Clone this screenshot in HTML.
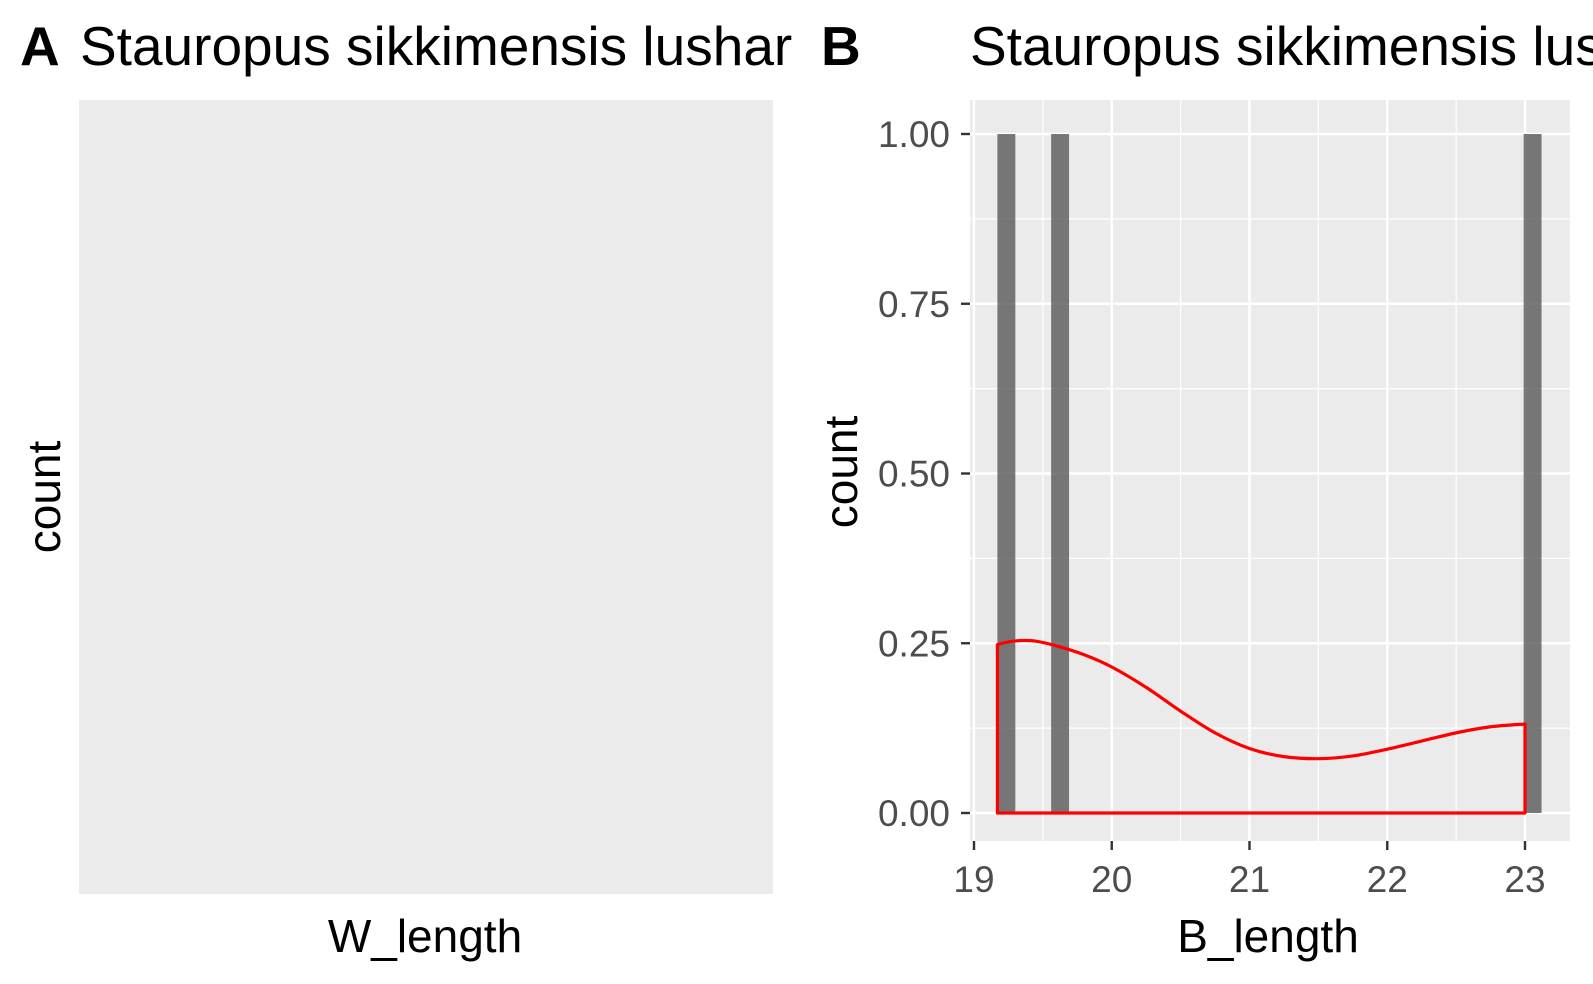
<!DOCTYPE html>
<html><head><meta charset="utf-8"><style>
html,body{margin:0;padding:0;background:#fff;}
svg{display:block;font-family:"Liberation Sans",Arial,sans-serif;}
</style></head><body>
<svg id="chart" width="1593" height="984" viewBox="0 0 1593 984">
  <text x="20" y="65" font-size="55" font-weight="bold">A</text>
  <text x="80" y="65" font-size="55">Stauropus sikkimensis lushar</text>
  <rect x="79" y="100" width="694" height="794" fill="#ebebeb"/>
  <text transform="translate(60,497) rotate(-90)" text-anchor="middle" font-size="46">count</text>
  <text x="425" y="952" text-anchor="middle" font-size="46">W_length</text>

  <text x="821" y="65" font-size="55" font-weight="bold">B</text>
  <text x="970" y="65" font-size="55">Stauropus sikkimensis lushar</text>
  <rect x="970" y="100" width="600" height="741" fill="#ebebeb"/>
  <g id="grid"></g>
  <g id="bars"></g>
  <g id="dens"></g>
  <g id="axes"></g>
  <text transform="translate(857,472) rotate(-90)" text-anchor="middle" font-size="46">count</text>
  <text x="1268" y="952" text-anchor="middle" font-size="46">B_length</text>
</svg>
<script>
const binStarts = [19.17, 19.56, 22.99];
const binCounts = [1, 1, 1];
const binWidth = 0.13;
const densX = [19.17, 19.25, 19.35, 19.45, 19.6, 19.8, 20.0, 20.25, 20.5, 20.75, 21.0, 21.25, 21.5, 21.75, 22.0, 22.25, 22.5, 22.75, 23.0];
const densY = [0.248, 0.252, 0.254, 0.253, 0.246, 0.233, 0.215, 0.185, 0.150, 0.118, 0.095, 0.083, 0.080, 0.084, 0.094, 0.106, 0.118, 0.127, 0.131];
const xTicks = [19, 20, 21, 22, 23];
const yTicks = [0, 0.25, 0.5, 0.75, 1];
const yTickLabels = ["0.00", "0.25", "0.50", "0.75", "1.00"];

const NS = "http://www.w3.org/2000/svg";
const X = v => 974 + (v - 19) * 137.75;
const Y = v => 813 - v * 679;
const L = 970, R = 1570, T = 100, B = 841;
function mk(tag, attrs, parent) {
  const e = document.createElementNS(NS, tag);
  for (const k in attrs) e.setAttribute(k, attrs[k]);
  document.getElementById(parent).appendChild(e);
  return e;
}
for (let i = 0; i < xTicks.length; i++) {
  const m = xTicks[i] + 0.5;
  if (X(m) < R) {
    const g = mk("line", {x1: X(m), x2: X(m), y1: T, y2: B, stroke: "#fff", "stroke-width": 1.2}, "grid");
    
    
  }
}
for (let i = 0; i < yTicks.length; i++) {
  const m = yTicks[i] + 0.125;
  if (Y(m) > T) {
    const g = mk("line", {x1: L, x2: R, y1: Y(m), y2: Y(m), stroke: "#fff", "stroke-width": 1.2}, "grid");
    
    
  }
}
xTicks.forEach(t => {
  const g = mk("line", {x1: X(t), x2: X(t), y1: T, y2: B, stroke: "#fff", "stroke-width": 2.4}, "grid");
  
  
  const tk = mk("line", {x1: X(t), x2: X(t), y1: B, y2: B + 9, stroke: "#333", "stroke-width": 2.4}, "axes");
  
  
  const lb = mk("text", {x: X(t), y: B + 51, "text-anchor": "middle", "font-size": 37, fill: "#4d4d4d"}, "axes");
  lb.textContent = t;
  
  
});
yTicks.forEach((t, i) => {
  const g = mk("line", {x1: L, x2: R, y1: Y(t), y2: Y(t), stroke: "#fff", "stroke-width": 2.4}, "grid");
  
  
  const tk = mk("line", {x1: L - 9, x2: L, y1: Y(t), y2: Y(t), stroke: "#333", "stroke-width": 2.4}, "axes");
  
  
  const lb = mk("text", {x: L - 20, y: Y(t) + 13, "text-anchor": "end", "font-size": 37, fill: "#4d4d4d"}, "axes");
  lb.textContent = yTickLabels[i];
  
  
});
binStarts.forEach((s, i) => {
  const b = mk("rect", {x: X(s), y: Y(binCounts[i]), width: X(s + binWidth) - X(s), height: Y(0) - Y(binCounts[i]), fill: "#595959", "fill-opacity": 0.8}, "bars");
  
  
});
// smooth curve via Catmull-Rom
const pts = densX.map((x, i) => [X(x), Y(densY[i])]);
let d = "M" + X(densX[0]) + "," + Y(0) + " L" + pts[0][0] + "," + pts[0][1];
for (let i = 0; i < pts.length - 1; i++) {
  const p0 = pts[Math.max(0, i - 1)], p1 = pts[i], p2 = pts[i + 1], p3 = pts[Math.min(pts.length - 1, i + 2)];
  const c1 = [p1[0] + (p2[0] - p0[0]) / 6, p1[1] + (p2[1] - p0[1]) / 6];
  const c2 = [p2[0] - (p3[0] - p1[0]) / 6, p2[1] - (p3[1] - p1[1]) / 6];
  d += " C" + c1[0] + "," + c1[1] + " " + c2[0] + "," + c2[1] + " " + p2[0] + "," + p2[1];
}
d += " L" + X(densX[densX.length - 1]) + "," + Y(0) + " Z";
const p = mk("path", {d: d, fill: "none", stroke: "#ff0000", "stroke-width": 3.2, "stroke-linejoin": "round"}, "dens");


</script>
</body></html>
